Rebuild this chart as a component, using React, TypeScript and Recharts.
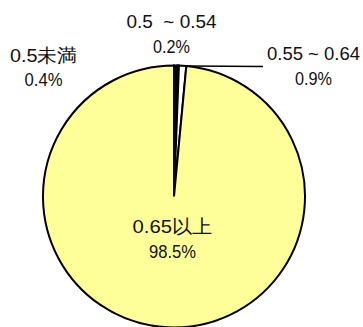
import React from 'react';
import { PieChart, Pie, Cell } from 'recharts';

const categories = ['0.5未満', '0.5\u00a0\u00a0~ 0.54', '0.55 ~ 0.64', '0.65以上'];
const shares = [0.4, 0.2, 0.9, 98.5];
const FILLS = ['#000000', '#000000', '#ffffff', '#ffff99'];

const data = categories.map((name, i) => ({ name, value: shares[i] }));

// label placement relative to the pie centre (baseline of first line), and line widths
const LABEL_POS = [
  { dx: -130.5, dy: -135, w1: 67, w2: 38 },
  { dx: -2.5, dy: -168.5, w1: 90, w2: 37 },
  { dx: 139.5, dy: -136.5, w1: 93, w2: 37 },
  { dx: -1.5, dy: 36.5, w1: 80, w2: 47 }
];

const FONT = '"Liberation Sans", Arial, sans-serif';

const renderLabel = (props: any) => {
  const { cx, cy, outerRadius, index, name, value } = props;
  const p = LABEL_POS[index];
  const x = cx + p.dx;
  const y = cy + p.dy;
  const common = { textAnchor: 'middle' as const, fontFamily: FONT, fontSize: 19, fill: '#111', lengthAdjust: 'spacingAndGlyphs' };
  return (
    <g key={`lbl-${index}`}>
      {index === 2 && (
        <line
          x1={cx + 13}
          y1={cy - outerRadius + 0.5}
          x2={cx + 89}
          y2={cy - outerRadius + 1}
          stroke="#000"
          strokeWidth={1.5}
        />
      )}
      <text x={x} y={y} textLength={p.w1} {...common}>{name}</text>
      <text x={x} y={y + 24.5} textLength={p.w2} {...common}>{`${value.toFixed(1)}%`}</text>
    </g>
  );
};

export default function App() {
  return (
    <div style={{ position: 'absolute', left: 0, top: 0, width: 363, height: 327, background: '#fff' }}>
      <PieChart width={363} height={327} margin={{ top: 0, right: 0, bottom: 0, left: 0 }}>
        <Pie
          data={data}
          dataKey="value"
          nameKey="name"
          cx={174}
          cy={196.5}
          outerRadius={131}
          startAngle={90}
          endAngle={-270}
          stroke="#000"
          strokeWidth={2}
          label={renderLabel}
          labelLine={false}
          isAnimationActive={false}
        >
          {data.map((d, i) => (
            <Cell key={d.name} fill={FILLS[i]} />
          ))}
        </Pie>
      </PieChart>
    </div>
  );
}
